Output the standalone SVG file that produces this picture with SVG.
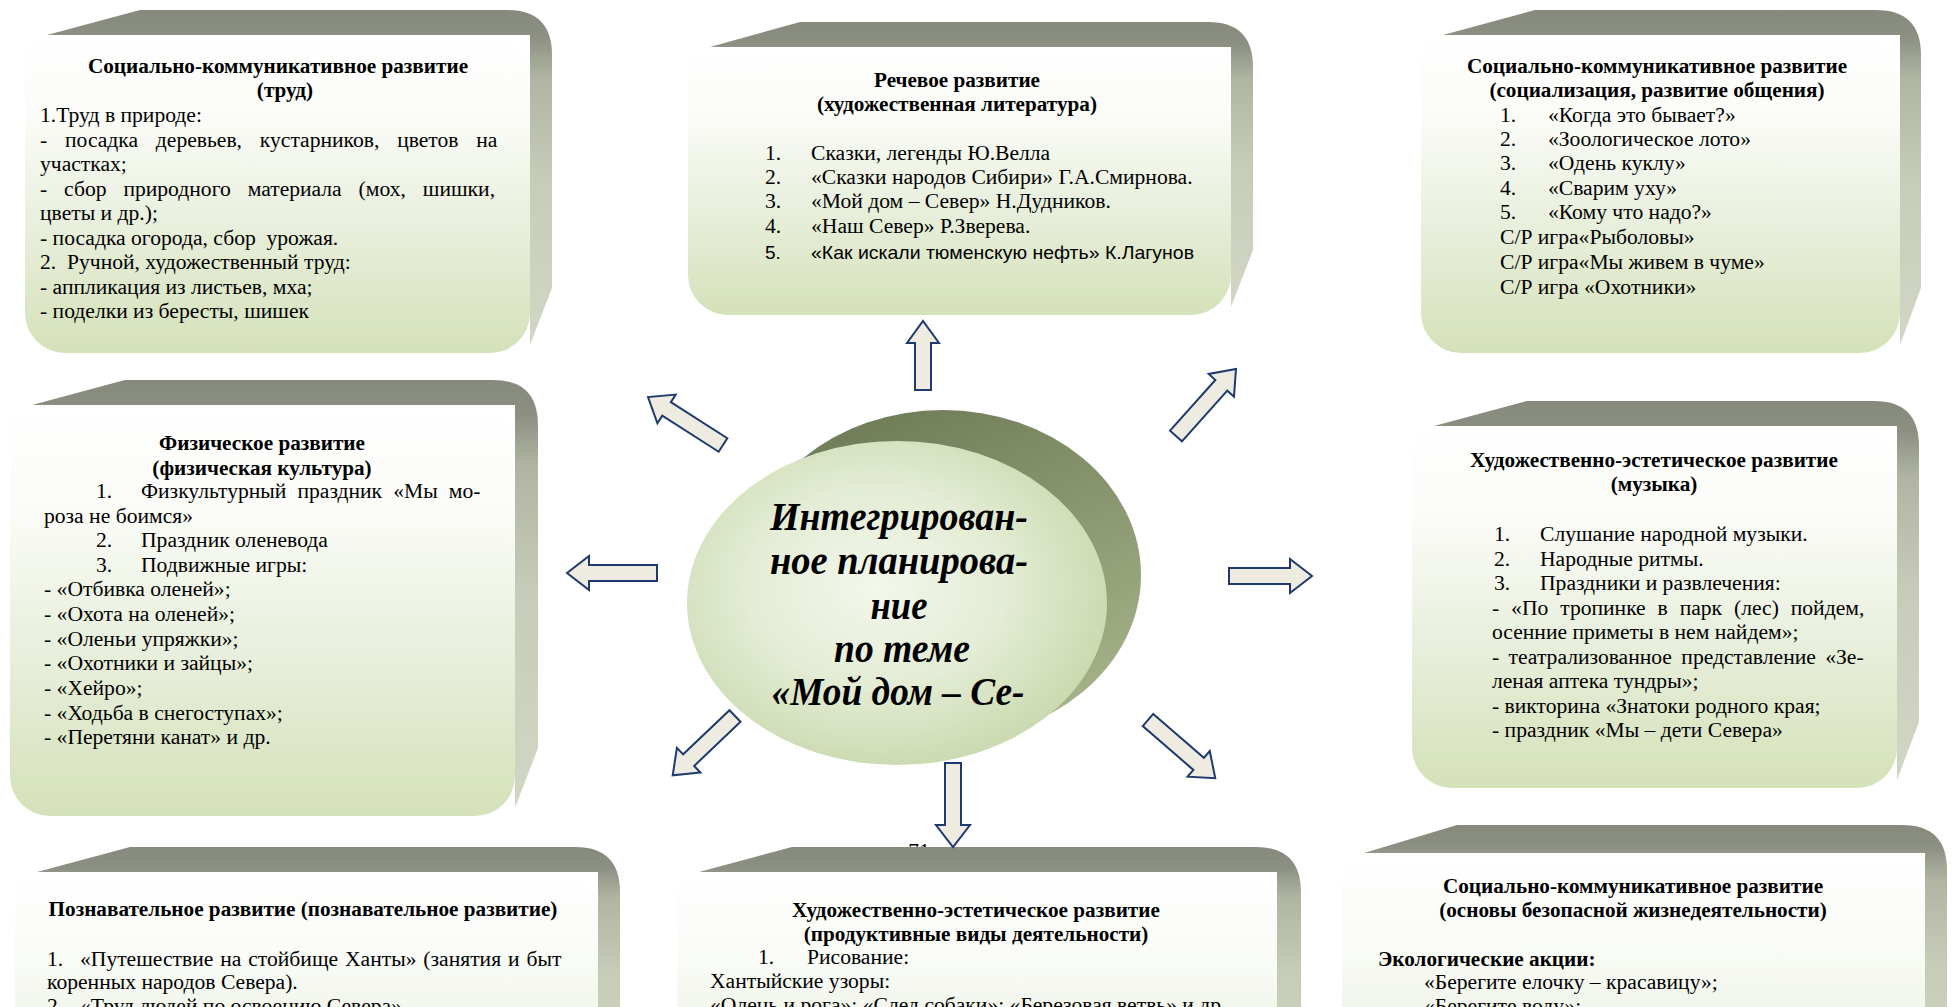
<svg xmlns="http://www.w3.org/2000/svg" width="1954" height="1007" viewBox="0 0 1954 1007">
<defs>
<linearGradient id="face" x1="0" y1="0" x2="0" y2="1">
<stop offset="0" stop-color="#ffffff"/>
<stop offset="0.25" stop-color="#fbfcf8"/>
<stop offset="0.6" stop-color="#e8efdc"/>
<stop offset="1" stop-color="#d5e1b9"/>
</linearGradient>
<linearGradient id="faceB" x1="0" y1="0" x2="0" y2="1">
<stop offset="0" stop-color="#ffffff"/>
<stop offset="0.4" stop-color="#f9fbf6"/>
<stop offset="1" stop-color="#e6edd9"/>
</linearGradient>
<linearGradient id="ext" x1="0" y1="0" x2="0" y2="1">
<stop offset="0" stop-color="#868a7d"/>
<stop offset="0.08" stop-color="#8c9083"/>
<stop offset="0.2" stop-color="#afb5a1"/>
<stop offset="0.5" stop-color="#c6ccb8"/>
<stop offset="1" stop-color="#d1d7c4"/>
</linearGradient>
<linearGradient id="back" x1="0.3" y1="0" x2="0.8" y2="1">
<stop offset="0" stop-color="#6f7c58"/>
<stop offset="1" stop-color="#a9b58b"/>
</linearGradient>
<radialGradient id="front" cx="0.45" cy="0.45" r="0.62">
<stop offset="0" stop-color="#f3f7ec"/>
<stop offset="0.5" stop-color="#e3ecd4"/>
<stop offset="1" stop-color="#c6d6a9"/>
</radialGradient>
<style>
.ext{fill:url(#ext)}
.face{fill:url(#face)}
.faceB{fill:url(#faceB)}
.t{font-family:"Liberation Serif","Times New Roman",serif;font-size:21.6px;fill:#000}
.b{font-weight:bold;font-size:21.2px}
.c{text-anchor:middle}
.s{font-family:"Liberation Sans",Arial,sans-serif;font-size:19px;fill:#000}
.ctr{font-family:"Liberation Serif","Times New Roman",serif;font-weight:bold;font-style:italic;font-size:39px;text-anchor:middle;fill:#000}
.arr{fill:#eeece1;stroke:#1f3a6e;stroke-width:2}
</style>
</defs>
<rect width="1954" height="1007" fill="#ffffff"/>

<g id="box-trud">
<path class="ext" d="M47,35 L140,10 H507 Q552,10 552,55 V288 L530,345 V35 Z"/>
<path class="face" d="M25,35 H490 A40 40 0 0 1 530,75 V313 A40 40 0 0 1 490,353 H65 A40 40 0 0 1 25,313 Z"/>
<text class="t b c" x="278" y="73">Социально-коммуникативное развитие</text>
<text class="t b c" x="285" y="97">(труд)</text>
<text class="t" x="40" y="122">1.Труд в природе:</text>
<text class="t" x="40" y="146.5" word-spacing="12.4">- посадка деревьев, кустарников, цветов на</text>
<text class="t" x="40" y="171">участках;</text>
<text class="t" x="40" y="195.5" word-spacing="11.5">- сбор природного материала (мох, шишки,</text>
<text class="t" x="40" y="220">цветы и др.);</text>
<text class="t" x="40" y="244.5" xml:space="preserve">- посадка огорода, сбор  урожая.</text>
<text class="t" x="40" y="269" xml:space="preserve">2.  Ручной, художественный труд:</text>
<text class="t" x="40" y="293.5">- аппликация из листьев, мха;</text>
<text class="t" x="40" y="318">- поделки из бересты, шишек</text>
</g>

<g id="box-rech">
<path class="ext" d="M710,47 L800,22 H1208 Q1253,22 1253,67 V250 L1231,307 V47 Z"/>
<path class="face" d="M688,47 H1191 A40 40 0 0 1 1231,87 V275 A40 40 0 0 1 1191,315 H728 A40 40 0 0 1 688,275 Z"/>
<text class="t b c" x="957" y="87">Речевое развитие</text>
<text class="t b c" x="957" y="111">(художественная литература)</text>
<text class="t" x="765" y="160">1.</text><text class="t" x="811" y="160">Сказки, легенды Ю.Велла</text>
<text class="t" x="765" y="184">2.</text><text class="t" x="811" y="184">«Сказки народов Сибири» Г.А.Смирнова.</text>
<text class="t" x="765" y="208">3.</text><text class="t" x="811" y="208">«Мой дом – Север» Н.Дудников.</text>
<text class="t" x="765" y="233">4.</text><text class="t" x="811" y="233">«Наш Север» Р.Зверева.</text>
<text class="s" x="765" y="259">5.</text><text class="s" x="811" y="259" textLength="383" lengthAdjust="spacingAndGlyphs">«Как искали тюменскую нефть» К.Лагунов</text>
</g>

<g id="box-soc">
<path class="ext" d="M1443,35 L1535,10 H1876 Q1921,10 1921,55 V288 L1900,345 V35 Z"/>
<path class="face" d="M1421,35 H1860 A40 40 0 0 1 1900,75 V313 A40 40 0 0 1 1860,353 H1461 A40 40 0 0 1 1421,313 Z"/>
<text class="t b c" x="1657" y="73">Социально-коммуникативное развитие</text>
<text class="t b c" x="1657" y="97">(социализация, развитие общения)</text>
<text class="t" x="1500" y="122">1.</text><text class="t" x="1548" y="122">«Когда это бывает?»</text>
<text class="t" x="1500" y="146">2.</text><text class="t" x="1548" y="146">«Зоологическое лото»</text>
<text class="t" x="1500" y="170">3.</text><text class="t" x="1548" y="170">«Одень куклу»</text>
<text class="t" x="1500" y="195">4.</text><text class="t" x="1548" y="195">«Сварим уху»</text>
<text class="t" x="1500" y="219">5.</text><text class="t" x="1548" y="219">«Кому что надо?»</text>
<text class="t" x="1500" y="244">С/Р игра«Рыболовы»</text>
<text class="t" x="1500" y="269">С/Р игра«Мы живем в чуме»</text>
<text class="t" x="1500" y="294">С/Р игра «Охотники»</text>
</g>

<g id="box-fiz">
<path class="ext" d="M32,405 L125,380 H493 Q538,380 538,425 V748 L515,808 V405 Z"/>
<path class="face" d="M10,405 H475 A40 40 0 0 1 515,445 V776 A40 40 0 0 1 475,816 H50 A40 40 0 0 1 10,776 Z"/>
<text class="t b c" x="262" y="450">Физическое развитие</text>
<text class="t b c" x="262" y="475">(физическая культура)</text>
<text class="t" x="96" y="498">1.</text><text class="t" x="141" y="498" word-spacing="5.7">Физкультурный праздник «Мы мо-</text>
<text class="t" x="44" y="522.5">роза не боимся»</text>
<text class="t" x="96" y="547">2.</text><text class="t" x="141" y="547">Праздник оленевода</text>
<text class="t" x="96" y="571.5">3.</text><text class="t" x="141" y="571.5">Подвижные игры:</text>
<text class="t" x="44" y="596">- «Отбивка оленей»;</text>
<text class="t" x="44" y="621">- «Охота на оленей»;</text>
<text class="t" x="44" y="645.5">- «Оленьи упряжки»;</text>
<text class="t" x="44" y="670">- «Охотники и зайцы»;</text>
<text class="t" x="44" y="695">- «Хейро»;</text>
<text class="t" x="44" y="719.5">- «Ходьба в снегоступах»;</text>
<text class="t" x="44" y="744">- «Перетяни канат» и др.</text>
</g>

<g id="box-muz">
<path class="ext" d="M1434,426 L1527,401 H1874 Q1919,401 1919,446 V722 L1897,780 V426 Z"/>
<path class="face" d="M1412,426 H1857 A40 40 0 0 1 1897,466 V748 A40 40 0 0 1 1857,788 H1452 A40 40 0 0 1 1412,748 Z"/>
<text class="t b c" x="1654" y="467">Художественно-эстетическое развитие</text>
<text class="t b c" x="1654" y="491">(музыка)</text>
<text class="t" x="1494" y="541">1.</text><text class="t" x="1540" y="541">Слушание народной музыки.</text>
<text class="t" x="1494" y="565.5">2.</text><text class="t" x="1540" y="565.5">Народные ритмы.</text>
<text class="t" x="1494" y="590">3.</text><text class="t" x="1540" y="590">Праздники и развлечения:</text>
<text class="t" x="1492" y="614.5" word-spacing="6.5">- «По тропинке в парк (лес) пойдем,</text>
<text class="t" x="1492" y="639">осенние приметы в нем найдем»;</text>
<text class="t" x="1492" y="663.5" word-spacing="4">- театрализованное представление «Зе-</text>
<text class="t" x="1492" y="688">леная аптека тундры»;</text>
<text class="t" x="1492" y="712.5">- викторина «Знатоки родного края;</text>
<text class="t" x="1492" y="737">- праздник «Мы – дети Севера»</text>
</g>

<g id="box-pozn">
<path class="ext" d="M37,872 L130,847 H575 Q620,847 620,892 V1100 H598 V872 Z"/>
<path class="faceB" d="M15,872 H558 A40 40 0 0 1 598,912 V1100 H15 Z"/>
<text class="t b c" x="303" y="916">Познавательное развитие (познавательное развитие)</text>
<text class="t" x="47" y="966">1.</text><text class="t" x="80" y="966" word-spacing="1.5">«Путешествие на стойбище Ханты» (занятия и быт</text>
<text class="t" x="47" y="989">коренных народов Севера).</text>
<text class="t" x="47" y="1013">2.</text><text class="t" x="80" y="1013">«Труд людей по освоению Севера».</text>
</g>

<text class="t c" x="919" y="858">71</text>

<g id="box-prod">
<path class="ext" d="M699,872 L792,847 H1256 Q1301,847 1301,892 V1100 H1277 V872 Z"/>
<path class="faceB" d="M677,872 H1237 A40 40 0 0 1 1277,912 V1100 H677 Z"/>
<text class="t b c" x="976" y="917">Художественно-эстетическое развитие</text>
<text class="t b c" x="976" y="941">(продуктивные виды деятельности)</text>
<text class="t" x="758" y="964">1.</text><text class="t" x="807" y="964">Рисование:</text>
<text class="t" x="710" y="988">Хантыйские узоры:</text>
<text class="t" x="710" y="1012">«Олень и рога»; «След собаки»; «Березовая ветвь» и др.</text>
</g>

<g id="box-obzh">
<path class="ext" d="M1364,853 L1457,825 H1902 Q1947,825 1947,870 V1100 H1925 V853 Z"/>
<path class="faceB" d="M1342,853 H1885 A40 40 0 0 1 1925,893 V1100 H1342 Z"/>
<text class="t b c" x="1633" y="893">Социально-коммуникативное развитие</text>
<text class="t b c" x="1633" y="917">(основы безопасной жизнедеятельности)</text>
<text class="t b" x="1378" y="966">Экологические акции:</text>
<text class="t" x="1424" y="989">«Берегите елочку – красавицу»;</text>
<text class="t" x="1424" y="1013">«Берегите воду»;</text>
</g>

<g id="center">
<ellipse cx="943" cy="575" rx="198" ry="165" fill="url(#back)"/>
<ellipse cx="897" cy="603" rx="210" ry="162" fill="url(#front)"/>
<text class="ctr" x="899" y="530" textLength="258" lengthAdjust="spacingAndGlyphs">Интегрирован-</text>
<text class="ctr" x="899" y="574" textLength="258" lengthAdjust="spacingAndGlyphs">ное планирова-</text>
<text class="ctr" x="899" y="619" textLength="57" lengthAdjust="spacingAndGlyphs">ние</text>
<text class="ctr" x="902" y="662" textLength="136" lengthAdjust="spacingAndGlyphs">по теме</text>
<text class="ctr" x="898" y="705" textLength="253" lengthAdjust="spacingAndGlyphs">«Мой дом – Се-</text>
</g>

<g id="connectors">
<polygon class="arr" transform="translate(923,390) rotate(-90)" points="0,-8 47,-8 47,-16 69,0 47,16 47,8 0,8"/>
<polygon class="arr" transform="translate(723,445) rotate(-147.4)" points="0,-8 67,-8 67,-17 89,0 67,17 67,8 0,8"/>
<polygon class="arr" transform="translate(1176,436) rotate(-48.2)" points="0,-8 68,-8 68,-17 90,0 68,17 68,8 0,8"/>
<polygon class="arr" transform="translate(657,573) rotate(180)" points="0,-8 68,-8 68,-17 90,0 68,17 68,8 0,8"/>
<polygon class="arr" transform="translate(1229,576)" points="0,-8 61,-8 61,-17 83,0 61,17 61,8 0,8"/>
<polygon class="arr" transform="translate(735,716) rotate(136.4)" points="0,-8 64,-8 64,-17 86,0 64,17 64,8 0,8"/>
<polygon class="arr" transform="translate(953,763) rotate(90)" points="0,-8 62,-8 62,-17 84,0 62,17 62,8 0,8"/>
<polygon class="arr" transform="translate(1148,720) rotate(40.9)" points="0,-8 67,-8 67,-17 89,0 67,17 67,8 0,8"/>
</g>
</svg>
